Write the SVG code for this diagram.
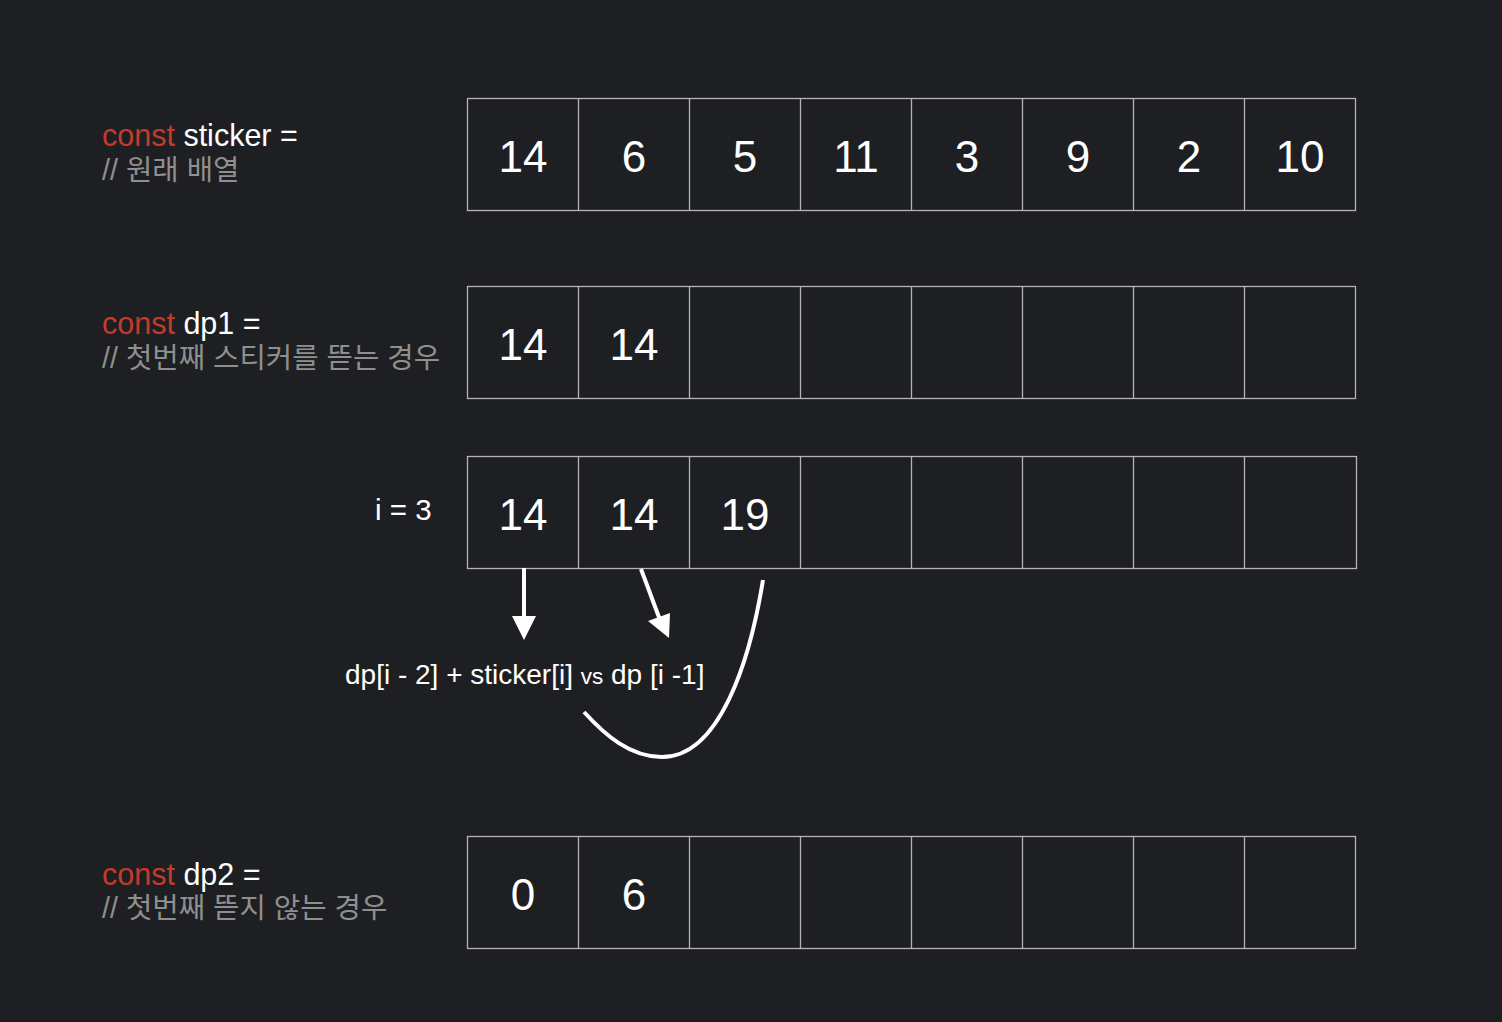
<svg xmlns="http://www.w3.org/2000/svg" width="1502" height="1022" viewBox="0 0 1502 1022">
<style>
.cell{fill:none;stroke:#b4b4b4;stroke-width:1.3}
.num{font-family:"Liberation Sans",Arial,sans-serif;font-size:44px;fill:#ffffff;text-anchor:middle}
.lbl{font-family:"Liberation Sans","Noto Sans CJK KR",sans-serif;font-size:30.5px;fill:#ffffff}
.kw{fill:#c53a2a}
.cm{font-family:"Liberation Sans","Noto Sans CJK KR",sans-serif;font-size:28.7px;fill:#8f8f8f}
.wire{stroke:#ffffff;stroke-width:4;fill:none}
</style>
<rect width="1502" height="1022" fill="#1e1f22"/>

<g id="label-sticker">
<text class="lbl" x="102" y="146"><tspan class="kw">const</tspan> sticker =</text>
<text class="cm" x="102" y="180">// 원래 배열</text>
</g>
<g id="row-sticker">
<rect class="cell" x="467.5" y="98.5" width="888" height="112"/>
<path class="cell" d="M578.5,98.5V210.5M689.5,98.5V210.5M800.5,98.5V210.5M911.5,98.5V210.5M1022.5,98.5V210.5M1133.5,98.5V210.5M1244.5,98.5V210.5"/>
<text class="num" x="523" y="172">14</text>
<text class="num" x="634" y="172">6</text>
<text class="num" x="745" y="172">5</text>
<text class="num" x="856" y="172">11</text>
<text class="num" x="967" y="172">3</text>
<text class="num" x="1078" y="172">9</text>
<text class="num" x="1189" y="172">2</text>
<text class="num" x="1300" y="172">10</text>
</g>

<g id="label-dp1">
<text class="lbl" x="102" y="334"><tspan class="kw">const</tspan> dp1 =</text>
<text class="cm" x="102" y="368">// 첫번째 스티커를 뜯는 경우</text>
</g>
<g id="row-dp1">
<rect class="cell" x="467.5" y="286.5" width="888" height="112"/>
<path class="cell" d="M578.5,286.5V398.5M689.5,286.5V398.5M800.5,286.5V398.5M911.5,286.5V398.5M1022.5,286.5V398.5M1133.5,286.5V398.5M1244.5,286.5V398.5"/>
<text class="num" x="523" y="360">14</text>
<text class="num" x="634" y="360">14</text>
</g>

<g id="label-i">
<text class="lbl" x="375" y="520" style="font-size:29.5px">i = 3</text>
</g>
<g id="row-i3">
<rect class="cell" x="467.5" y="456.5" width="889" height="112"/>
<path class="cell" d="M578.5,456.5V568.5M689.5,456.5V568.5M800.5,456.5V568.5M911.5,456.5V568.5M1022.5,456.5V568.5M1133.5,456.5V568.5M1244.5,456.5V568.5"/>
<text class="num" x="523" y="530">14</text>
<text class="num" x="634" y="530">14</text>
<text class="num" x="745" y="530">19</text>
</g>

<g id="formula">
<text class="lbl" x="345" y="684" style="font-size:28px">dp[i - 2] + sticker[i] <tspan style="font-size:22.5px">vs</tspan> dp [i -1]</text>
</g>

<g id="label-dp2">
<text class="lbl" x="102" y="885"><tspan class="kw">const</tspan> dp2 =</text>
<text class="cm" x="102" y="918">// 첫번째 뜯지 않는 경우</text>
</g>
<g id="row-dp2">
<rect class="cell" x="467.5" y="836.5" width="888" height="112"/>
<path class="cell" d="M578.5,836.5V948.5M689.5,836.5V948.5M800.5,836.5V948.5M911.5,836.5V948.5M1022.5,836.5V948.5M1133.5,836.5V948.5M1244.5,836.5V948.5"/>
<text class="num" x="523" y="910">0</text>
<text class="num" x="634" y="910">6</text>
</g>

<g id="connectors">
<line class="wire" x1="524" y1="568" x2="524" y2="622"/>
<path d="M512,616 L536,616 L524,640 Z" fill="#ffffff"/>
<line class="wire" x1="641" y1="569" x2="660" y2="620"/>
<path d="M648,621 L670,613 L669,638 Z" fill="#ffffff"/>
<path class="wire" d="M763,580 C750,660 720,757 662,757 C630,757 605,735 584,712"/>
</g>
</svg>
